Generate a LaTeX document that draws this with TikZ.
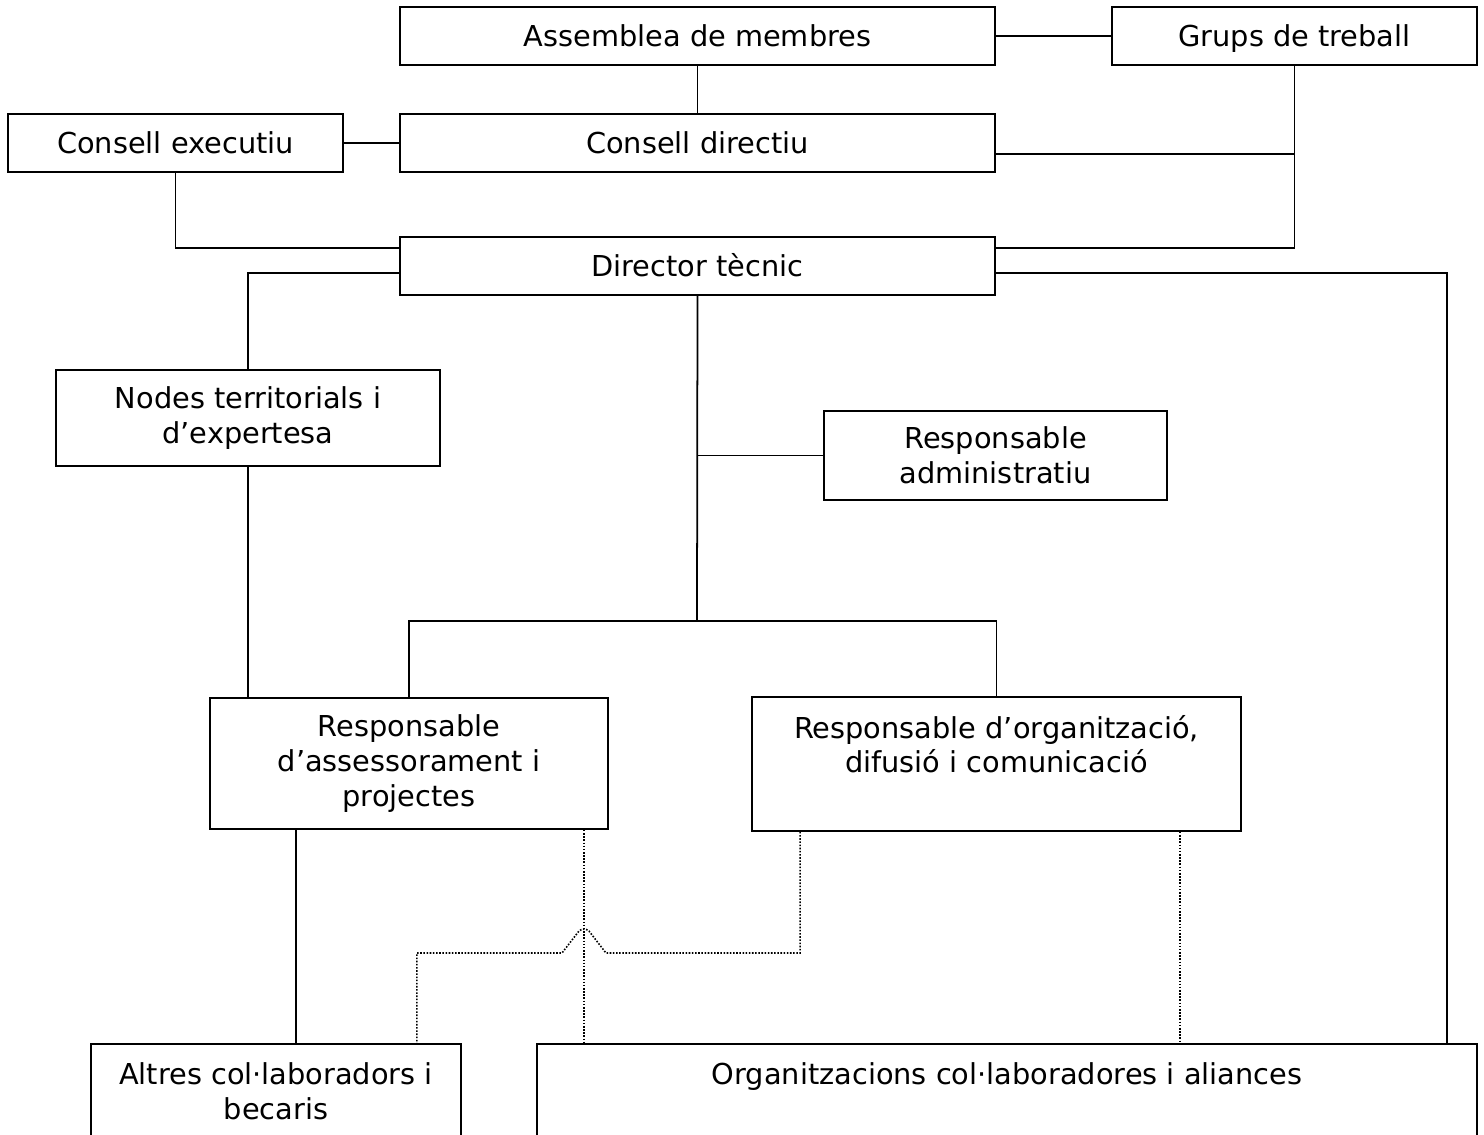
\documentclass[tikz,border=0pt]{standalone}
\usepackage{fontspec}
\setmainfont{DejaVu Sans}
\usetikzlibrary{positioning}

\tikzset{
  box/.style={draw, line width=1pt, align=center, inner sep=2pt},
  oneline/.style={text height=12.5pt, text depth=0pt},
  txt/.style={align=center, inner sep=0pt},
  link/.style={line width=1pt},
  dotlink/.style={line width=0.9pt, dash pattern=on 0.9pt off 0.9pt}
}

\begin{document}
\begin{tikzpicture}[x=0.02cm,y=-0.02cm,font=\fontsize{16.4}{19.8}\selectfont]
\useasboundingbox (0,0) rectangle (1484,1135);

%top row
\node[box, oneline, minimum width=11.9cm, minimum height=1.16cm] (assemblea) at (697.5,36) {Assemblea de membres};
\node[box, oneline, minimum width=7.3cm, minimum height=1.16cm] (grups) at (1294.5,36) {Grups de treball};

%consells
\node[box, oneline, minimum width=6.7cm, minimum height=1.16cm] (executiu) at (175.5,143) {Consell executiu};
\node[box, oneline, minimum width=11.9cm, minimum height=1.16cm] (directiu) at (697.5,143) {Consell directiu};

%director
\node[box, oneline, minimum width=11.9cm, minimum height=1.16cm] (director) at (697.5,266) {Director tècnic};

%middle
\node[box, minimum width=7.68cm, minimum height=1.92cm] (nodes) at (248,418) {Nodes territorials i\\d’expertesa};
\node[box, minimum width=6.86cm, minimum height=1.78cm] (admin) at (995.5,455.5) {Responsable\\administratiu};

%responsables
\node[box, minimum width=7.96cm, minimum height=2.62cm] (assess) at (409,763.5) {Responsable\\d’assessorament i\\projectes};
\node[box, minimum width=9.78cm, minimum height=2.68cm] (organ) at (996.5,764) {};
\node[txt] (organtxt) at ([yshift=-0.96cm]organ.north) {Responsable d’organització,\\difusió i comunicació};

%bottom row
\node[box, minimum width=7.4cm, minimum height=3cm, anchor=north] (altres) at (276,1043) {};
\node[txt] (altrestxt) at ([yshift=-0.96cm]altres.north) {Altres col·laboradors i\\becaris};
\node[box, minimum width=18.8cm, minimum height=3cm, anchor=north] (organitz) at (1007,1043) {};
\node[txt, oneline] (organitztxt) at ([yshift=-0.62cm]organitz.north) {Organitzacions col·laboradores i aliances};

%helper points
\path ([yshift=-0.22cm]directiu.east) coordinate (dirR);
\path ([yshift=-0.14cm]director.east) coordinate (dtR);
\coordinate (hub) at (697,621);
\path ([xshift=-2.26cm]assess.south) coordinate (aL);
\path ([xshift=3.5cm]assess.south) coordinate (aR);
\path ([xshift=-3.93cm]organ.south) coordinate (oL);
\path ([xshift=3.67cm]organ.south) coordinate (oR);
\coordinate (hop) at (aR |- 0,953);

%solid links
\draw[link] (assemblea.east) -- (grups.west);
\draw[link] (assemblea.south) -- (directiu.north);
\draw[link] (executiu.east) -- (directiu.west);
\draw[link] (grups.south) |- ([yshift=0.36cm]director.east);
\draw[link] (dirR) -- (dirR -| grups.south);
\draw[link] (dtR) -| ([xshift=-0.62cm]organitz.north east);
\draw[link] (executiu.south) |- ([yshift=0.36cm]director.west);
\draw[link] ([yshift=-0.14cm]director.west) -| (nodes.north);
\draw[link] (nodes.south) -- (nodes.south |- assess.north);
\draw[link] (director.south) -- (hub);
\draw[link] (admin.west) -- (admin.west -| hub);
\draw[link] (assess.north) |- (hub) -| (organ.north);
\draw[link] (aL) -- (aL |- altres.north);

%dotted links
\draw[dotlink] (aR) -- (aR |- organitz.north);
\draw[dotlink] (oR) -- (oR |- organitz.north);
\draw[dotlink] (oL) |- ([xshift=0.44cm]hop) -- ([xshift=0.1cm,yshift=0.44cm]hop)
  to[bend right=40] ([xshift=-0.1cm,yshift=0.44cm]hop) -- ([xshift=-0.44cm]hop) -| ([xshift=-0.9cm]altres.north east);
\end{tikzpicture}
\end{document}
